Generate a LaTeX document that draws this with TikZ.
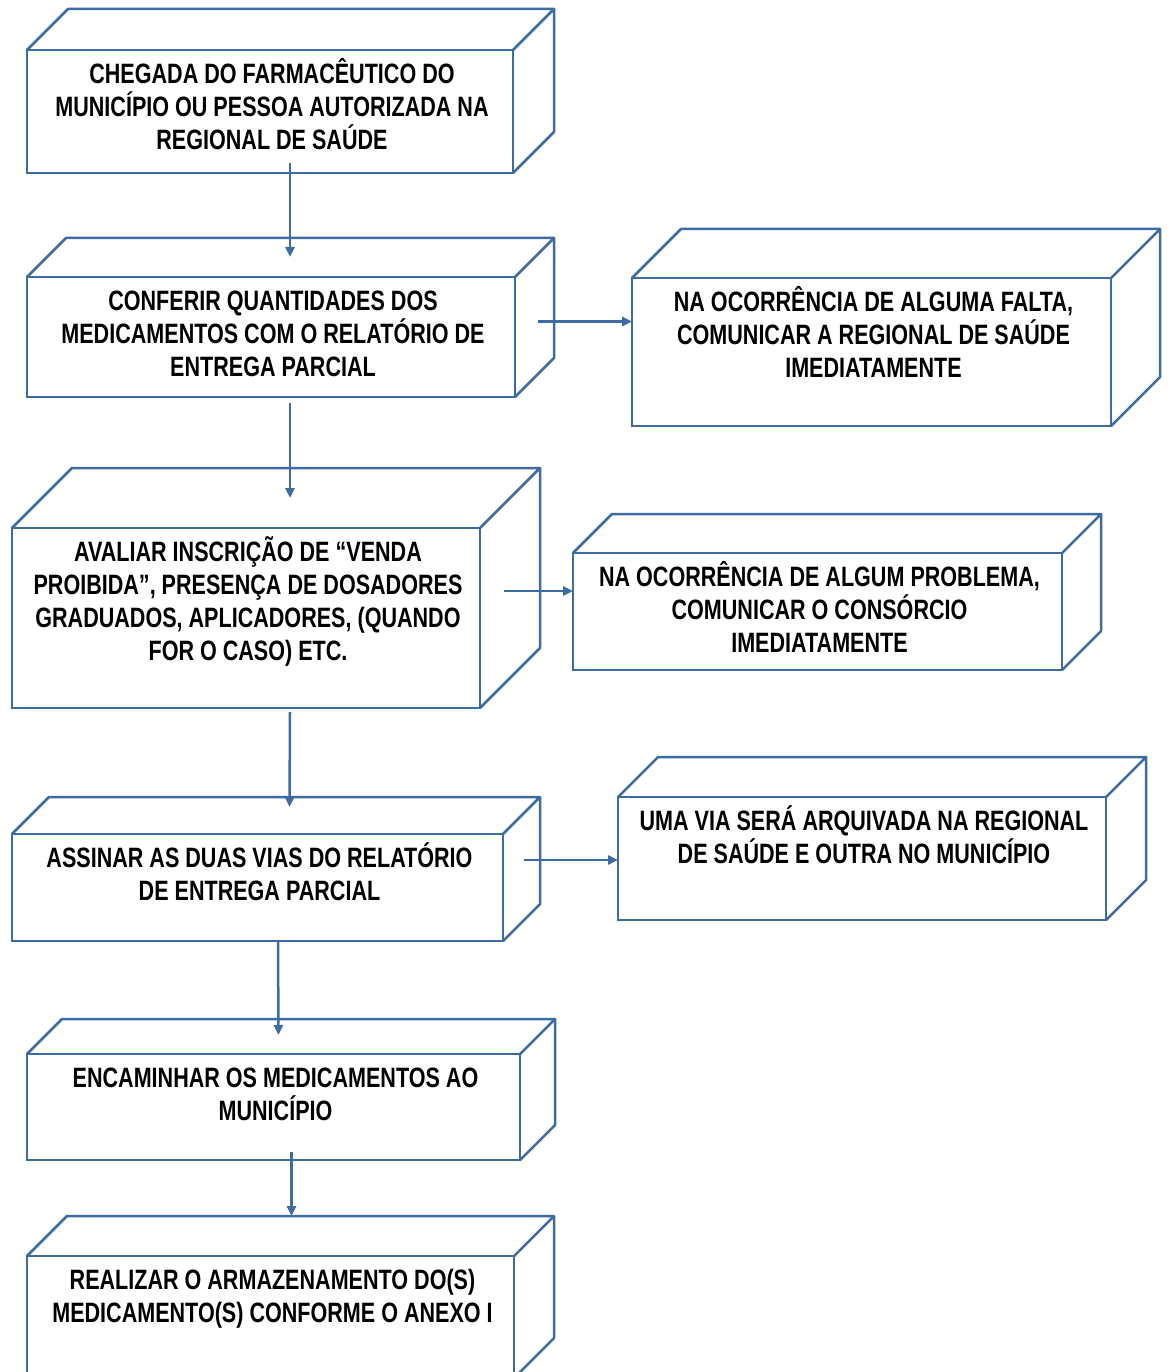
\documentclass[tikz,border=0pt]{standalone}
\usepackage{fontspec}
\newfontfamily\boxfont{Liberation Sans}[FakeStretch=0.77]
\usetikzlibrary{arrows.meta}
\definecolor{edgeblue}{RGB}{60,108,163}
\tikzset{
  face/.style={draw=edgeblue, line width=2.5pt, rectangle, inner sep=0pt, outer sep=0pt, fill=white},
  edge/.style={draw=edgeblue, line width=2.5pt, line join=round},
  txt/.style={font=\boxfont\bfseries\fontsize{28}{33}\selectfont, align=center, inner sep=0pt, anchor=north, text=black},
  arr/.style={draw=edgeblue, line width=2.5pt, -{Triangle[length=10pt,width=9pt]}}
}
% name, x1, y1, x2, y2, depth, text
\newcommand\cubebox[7]{%
  \node[face, minimum width={(#4-#2)*1pt}, minimum height={(#5-#3)*1pt}] (#1) at ({(#2+#4)/2},{(#3+#5)/2}) {};
  \draw[edge] (#1.north west) -- ++(#6,-#6) -- ([shift={(#6,-#6)}]#1.north east) -- (#1.north east)
              ([shift={(#6,-#6)}]#1.north east) -- ([shift={(#6,-#6)}]#1.south east) -- (#1.south east);
  \node[txt] (#1t) at ([xshift=2pt,yshift=-7pt]#1.north) {\rule{0pt}{26pt}#7};
}
\begin{document}
\begin{tikzpicture}[x=1pt,y=-1pt]
\useasboundingbox (0,0) rectangle (1171,1372);
\cubebox{b1}{27}{50}{513}{173}{41}{CHEGADA DO FARMACÊUTICO DO\\MUNICÍPIO OU PESSOA AUTORIZADA NA\\REGIONAL DE SAÚDE}
\cubebox{b2}{27}{277}{515}{397}{39}{CONFERIR QUANTIDADES DOS\\MEDICAMENTOS COM O RELATÓRIO DE\\ENTREGA PARCIAL}
\cubebox{r1}{632}{278}{1111}{426}{49}{NA OCORRÊNCIA DE ALGUMA FALTA,\\COMUNICAR A REGIONAL DE SAÚDE\\IMEDIATAMENTE}
\cubebox{b3}{12}{528}{480}{708}{60}{AVALIAR INSCRIÇÃO DE “VENDA\\PROIBIDA”, PRESENÇA DE DOSADORES\\GRADUADOS, APLICADORES, (QUANDO\\FOR O CASO) ETC.}
\cubebox{r2}{573}{553}{1062}{670}{39}{NA OCORRÊNCIA DE ALGUM PROBLEMA,\\COMUNICAR O CONSÓRCIO\\IMEDIATAMENTE}
\cubebox{b4}{12}{834}{503}{941}{37}{ASSINAR AS DUAS VIAS DO RELATÓRIO\\DE ENTREGA PARCIAL}
\cubebox{r3}{618}{797}{1106}{920}{40}{UMA VIA SERÁ ARQUIVADA NA REGIONAL\\DE SAÚDE E OUTRA NO MUNICÍPIO}
\cubebox{b5}{27}{1054}{520}{1160}{35}{ENCAMINHAR OS MEDICAMENTOS AO\\MUNICÍPIO}
\cubebox{b6}{27}{1256}{514}{1378}{40}{REALIZAR O ARMAZENAMENTO DO(S)\\MEDICAMENTO(S) CONFORME O ANEXO I}

\draw[arr] ([xshift=20pt,yshift=10pt]b1.south) -- ([xshift=19pt,yshift=20pt]b2.north);
\coordinate (s2) at ([xshift=23pt,yshift=15.5pt]b2.east);
\draw[arr] (s2) -- (s2 -| r1.west);
\draw[arr] ([xshift=19pt,yshift=-6pt]b2.south) -- ([xshift=44pt,yshift=30pt]b3.north);
\coordinate (s4) at ([xshift=24pt,yshift=27pt]b3.east);
\draw[arr] (s4) -- (s4 -| r2.west);
\draw[arr] ([xshift=44pt,yshift=-4pt]b3.south) -- ([xshift=32pt,yshift=27pt]b4.north);
\coordinate (s6) at ([xshift=21pt,yshift=27.5pt]b4.east);
\draw[arr] (s6) -- (s6 -| r3.west);
\draw[arr] ([xshift=20.5pt]b4.south) -- ([xshift=5pt,yshift=19pt]b5.north);
\draw[arr] ([xshift=18pt,yshift=8pt]b5.south) -- ([xshift=21pt,yshift=40pt]b6.north);
\end{tikzpicture}
\end{document}
